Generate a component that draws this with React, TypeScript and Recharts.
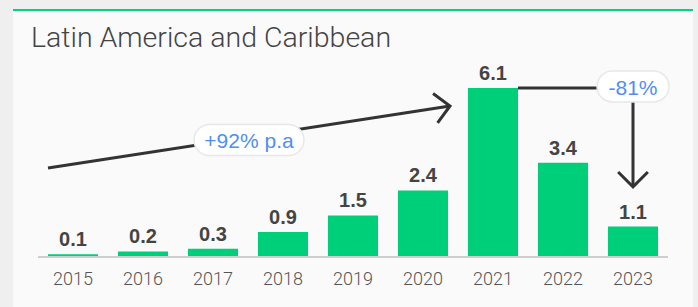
import React from 'react';
import { BarChart, Bar, XAxis, YAxis, LabelList, ReferenceLine } from 'recharts';

const years = ['2015', '2016', '2017', '2018', '2019', '2020', '2021', '2022', '2023'];
const values = [0.1, 0.2, 0.3, 0.9, 1.5, 2.4, 6.1, 3.4, 1.1];
const title = 'Latin America and Caribbean';
const growthLabel = '+92% p.a';
const dropLabel = '-81%';
// annotation anchors, in data units
const growthFrom = { x: '2015', y: 3.21 };
const growthTo = { x: '2021', y: 5.45 };
const dropFrom = { x: '2021', y: 6.1 };
const dropTo = { x: '2023', y: 2.53 };

const data = years.map((year, i) => ({ year, value: values[i] }));

const GREEN = '#00cf7a';
const INK = '#333';
const BAR_SIZE = 50;

// open arrowhead path, tip at (tx, ty), pointing along (dx, dy)
function chevron(tx: number, ty: number, dx: number, dy: number) {
  const len = Math.hypot(dx, dy);
  const bx = -dx / len;
  const by = -dy / len;
  const a = Math.PI / 4;
  const L = 21;
  const c = Math.cos(a);
  const s = Math.sin(a);
  const p1x = tx + L * (bx * c - by * s);
  const p1y = ty + L * (bx * s + by * c);
  const p2x = tx + L * (bx * c + by * s);
  const p2y = ty + L * (-bx * s + by * c);
  return `M${p1x},${p1y} L${tx},${ty} L${p2x},${p2y}`;
}

function Pill({ cx, cy, w, label }: { cx: number; cy: number; w: number; label: string }) {
  const h = 31;
  return (
    <g>
      <rect x={cx - w / 2} y={cy - h / 2} width={w} height={h} rx={h / 2}
        fill="#fff" stroke="#e8e8e8" strokeWidth={1.5} />
      <text x={cx} y={cy + 1} textAnchor="middle" dominantBaseline="central"
        fill="#4f8ef5" fontSize={21} fontFamily="Liberation Sans, Arial, sans-serif">
        {label}
      </text>
    </g>
  );
}

const GrowthArrow = (p: any) => {
  const x1 = p.x1 - BAR_SIZE / 2;
  const y1 = p.y1;
  const x2 = p.x2 - BAR_SIZE / 2 - 18;
  const y2 = p.y2;
  return (
    <g>
      <line x1={x1} y1={y1} x2={x2} y2={y2} stroke={INK} strokeWidth={3} />
      <path d={chevron(x2, y2, x2 - x1, y2 - y1)} fill="none" stroke={INK} strokeWidth={3} />
      <Pill cx={(x1 + x2) / 2} cy={(y1 + y2) / 2 + 3} w={110} label={growthLabel} />
    </g>
  );
};

const DropArrow = (p: any) => {
  const xs = p.x1 + BAR_SIZE / 2;
  return (
    <g>
      <line x1={xs} y1={p.y1} x2={p.x2} y2={p.y1} stroke={INK} strokeWidth={3} />
      <line x1={p.x2} y1={p.y1} x2={p.x2} y2={p.y2} stroke={INK} strokeWidth={3} />
      <path d={chevron(p.x2, p.y2, 0, 1)} fill="none" stroke={INK} strokeWidth={3} />
      <Pill cx={p.x2} cy={p.y1 - 1.5} w={72} label={dropLabel} />
    </g>
  );
};

const ValueLabel = (p: any) => (
  <text
    x={p.x + p.width / 2}
    y={p.y - 8}
    textAnchor="middle"
    fill="#444"
    fontSize={20}
    fontWeight="bold"
    fontFamily="Liberation Sans, Arial, sans-serif"
  >
    {Number(p.value).toFixed(1)}
  </text>
);

export default function App() {
  return (
    <div style={{ position: 'absolute', left: 0, top: 0, width: 698, height: 307, background: '#efefef', overflow: 'hidden' }}>
      <div style={{ position: 'absolute', left: 13, top: 9, width: 680, height: 298, background: '#fafafa', borderTop: '2px solid #00d47e' }} />
      <div style={{
        position: 'absolute', left: 31, top: 24, fontSize: 28.5, lineHeight: '28px',
        fontFamily: 'Roboto, sans-serif', fontWeight: 300, color: '#444', whiteSpace: 'nowrap',
      }}>
        {title}
      </div>
      <div style={{ position: 'absolute', left: 0, top: 0 }}>
        <BarChart width={698} height={307} data={data} margin={{ top: 63, right: 30, bottom: 20, left: 38 }}>
          <XAxis
            dataKey="year"
            height={30}
            axisLine={{ stroke: '#cfcfcf', strokeWidth: 2 }}
            tickLine={false}
            tickSize={0}
            tickMargin={15}
            interval={0}
            tick={{ fill: '#555', fontSize: 18, fontFamily: 'Roboto, sans-serif', fontWeight: 300 }}
          />
          <YAxis hide domain={[0, 7]} />
          <Bar dataKey="value" fill={GREEN} barSize={BAR_SIZE} isAnimationActive={false}>
            <LabelList dataKey="value" content={ValueLabel} />
          </Bar>
          <ReferenceLine segment={[growthFrom, growthTo]} shape={GrowthArrow} />
          <ReferenceLine segment={[dropFrom, dropTo]} shape={DropArrow} />
        </BarChart>
      </div>
    </div>
  );
}
